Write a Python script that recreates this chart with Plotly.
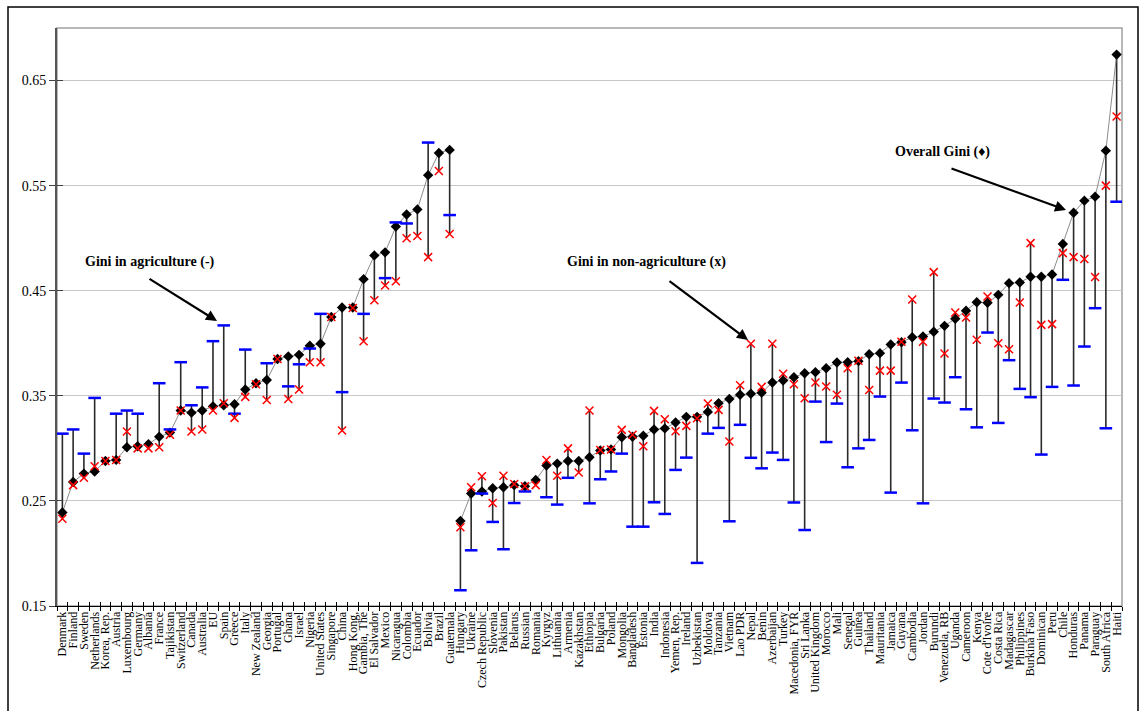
import plotly.graph_objects as go

countries = ["Denmark","Finland","Sweden","Netherlands","Korea, Rep.","Austria","Luxembourg","Germany","Albania","France",
"Tajikistan","Switzerland","Canada","Australia","EU","Spain","Greece","Italy","New Zealand","Georgia",
"Portugal","Ghana","Israel","Nigeria","United States","Singapore","China","Hong Kong,","Gambia, The","El Salvador",
"Mexico","Nicaragua","Colombia","Ecuador","Bolivia","Brazil","Guatemala","Hungary","Ukraine","Czech Republic",
"Slovenia","Pakistan","Belarus","Russian","Romania","Kyrgyz","Lithuania","Armenia","Kazakhstan","Ethiopia",
"Bulgaria","Poland","Mongolia","Bangladesh","Estonia","India","Indonesia","Yemen, Rep.","Ireland","Uzbekistan",
"Moldova","Tanzania","Vietnam","Lao PDR","Nepal","Benin","Azerbaijan","Turkey","Macedonia, FYR","Sri Lanka",
"United Kingdom","Morocco","Mali","Senegal","Guinea","Thailand","Mauritania","Jamaica","Guyana","Cambodia",
"Jordan","Burundi","Venezuela, RB","Uganda","Cameroon","Kenya","Cote d'Ivoire","Costa Rica","Madagascar","Philippines",
"Burkina Faso","Dominican","Peru","Chile","Honduras","Panama","Paraguay","South Africa","Haiti"]

# the overall-Gini line is drawn as two separate groups; the second group starts here
second_group_start = "Hungary"

gini_overall = [0.239,0.268,0.276,0.278,0.288,0.289,0.301,0.302,0.304,0.311,
0.315,0.336,0.334,0.336,0.340,0.341,0.342,0.356,0.362,0.365,
0.385,0.3875,0.389,0.3976,0.3995,0.425,0.434,0.434,0.461,0.4836,
0.4865,0.511,0.5226,0.5274,0.560,0.581,0.584,0.231,0.257,0.259,
0.262,0.263,0.265,0.264,0.270,0.2836,0.2855,0.288,0.288,0.2916,
0.298,0.299,0.3106,0.311,0.312,0.318,0.319,0.3246,0.330,0.330,
0.3347,0.343,0.347,0.351,0.352,0.353,0.3627,0.3646,0.3677,0.3715,
0.3725,0.3763,0.3817,0.382,0.383,0.3896,0.3906,0.3988,0.401,0.4058,
0.4064,0.4109,0.4166,0.4233,0.4309,0.4391,0.4385,0.4461,0.4572,0.4579,
0.4633,0.4633,0.4655,0.4944,0.5242,0.5357,0.5395,0.5833,0.6747]

gini_agri = [0.314,0.318,0.295,0.348,None,0.333,0.336,0.333,None,0.362,
0.318,0.382,0.341,0.358,0.402,0.417,0.333,0.394,None,0.381,
None,0.359,0.380,0.395,0.428,None,0.3535,None,0.428,None,
0.462,0.515,0.514,None,0.591,None,0.522,0.165,0.203,0.257,
0.230,0.204,0.248,0.259,None,0.2535,0.2465,0.272,None,0.2477,
0.2706,0.278,0.295,0.2255,0.2255,0.2487,0.2376,0.2795,0.2912,0.191,
0.314,0.3195,0.2306,0.3224,0.291,0.281,0.296,0.289,0.2485,0.2223,
0.3445,0.306,0.3426,0.282,0.300,0.308,0.3493,0.2579,0.3626,0.3172,
0.2477,0.3474,0.3436,0.3677,0.3372,0.320,0.4102,0.3242,0.3839,0.3566,
0.3487,0.2941,0.3585,0.4604,0.3598,0.3969,0.4334,0.3191,0.5347]

gini_nonagri = [0.233,0.265,0.272,0.283,0.288,0.289,0.316,0.300,0.300,0.301,
0.313,0.336,0.316,0.318,0.336,0.343,0.329,0.349,0.361,0.346,
0.385,0.347,0.356,0.382,0.382,0.425,0.317,0.4335,0.402,0.441,
0.455,0.459,0.500,0.502,0.482,0.564,0.504,0.225,0.263,0.2735,
0.248,0.274,0.266,0.264,0.265,0.289,0.274,0.300,0.277,0.336,
0.2985,0.299,0.3176,0.313,0.302,0.3357,0.3277,0.3163,0.3214,0.3287,
0.3427,0.3366,0.3065,0.360,0.3995,0.3585,0.3995,0.371,0.361,0.3477,
0.3626,0.3588,0.351,0.3763,0.3833,0.3556,0.374,0.374,0.4014,0.4417,
0.4014,0.4677,0.3902,0.4293,0.4245,0.4033,0.4445,0.4001,0.3944,0.4388,
0.4953,0.4175,0.4182,0.4858,0.482,0.4801,0.463,0.550,0.6157]

y_ticks = [0.15, 0.25, 0.35, 0.45, 0.55, 0.65]
y_tick_text = ["0.15", "0.25", "0.35", "0.45", "0.55", "0.65"]

FONT = "Liberation Serif"

# high-low lines
hx, hy = [], []
for c, g, a, n_ in zip(countries, gini_overall, gini_agri, gini_nonagri):
    vals = [v for v in (g, a, n_) if v is not None]
    hx += [c, c, None]
    hy += [min(vals), max(vals), None]

k = countries.index(second_group_start)

fig = go.Figure()
fig.add_trace(go.Scatter(x=hx, y=hy, mode="lines", line=dict(color="#2a2a2a", width=1.6),
                         hoverinfo="skip", showlegend=False))
for xs, ys in ((countries[:k], gini_overall[:k]), (countries[k:], gini_overall[k:])):
    fig.add_trace(go.Scatter(x=xs, y=ys, mode="lines+markers", name="Overall Gini",
                             line=dict(color="#8c8c8c", width=1),
                             marker=dict(symbol="diamond", size=8, color="black"), showlegend=False))
fig.add_trace(go.Scatter(x=countries, y=gini_agri, mode="markers", name="Gini in agriculture",
                         marker=dict(symbol="line-ew", size=9, line=dict(color="#0000ff", width=2.5)),
                         showlegend=False))
fig.add_trace(go.Scatter(x=countries, y=gini_nonagri, mode="markers", name="Gini in non-agriculture",
                         marker=dict(symbol="x-thin", size=8, line=dict(color="#ff0000", width=1.5)),
                         showlegend=False))
# invisible trace for overlay axes (crossing ticks)
fig.add_trace(go.Scatter(x=countries, y=gini_overall, xaxis="x2", yaxis="y2", mode="markers",
                         marker=dict(opacity=0), hoverinfo="skip", showlegend=False))

W, H = 1140, 711
L, R, T, B = 57, 18, 28, 105
pw, ph = W - L - R, H - T - B
ymin, ymax = 0.15, 0.70
n = len(countries)

def px2x(px):
    return (px - L) / pw * n - 0.5

def py2y(py):
    return ymax - (py - T) / ph * (ymax - ymin)

fig.update_layout(
    width=W, height=H,
    margin=dict(l=L, r=R, t=T, b=B, autoexpand=False),
    paper_bgcolor="white", plot_bgcolor="white",
    font=dict(family=FONT, color="black", size=12),
    xaxis=dict(type="category", categoryorder="array", categoryarray=countries,
               range=[-0.5, n - 0.5], tickmode="linear", tick0=0, dtick=1,
               tickson="boundaries", ticks="outside", ticklen=4,
               tickcolor="black", tickangle=-90, showgrid=False, showline=True, automargin=False,
               linecolor="black", linewidth=1, tickfont=dict(family=FONT, size=12, color="black"),
               zeroline=False),
    yaxis=dict(range=[ymin, ymax], tickvals=y_ticks, ticktext=y_tick_text, ticks="outside",
               ticklen=6, tickcolor="#404040", showgrid=True, gridcolor="#c8c8c8", gridwidth=1,
               showline=True, linecolor="#555555", linewidth=2, zeroline=False, automargin=False,
               tickfont=dict(family=FONT, size=14, color="black")),
    xaxis2=dict(type="category", categoryorder="array", categoryarray=countries, overlaying="x",
                range=[-0.5, n - 0.5], tickmode="linear", tick0=0, dtick=1,
                tickson="boundaries", ticks="inside", ticklen=4,
                tickcolor="black", showticklabels=False, showgrid=False, showline=False,
                zeroline=False, side="bottom", automargin=False),
    yaxis2=dict(range=[ymin, ymax], overlaying="y", tickvals=y_ticks, ticks="inside", ticklen=6,
                tickcolor="#404040", showticklabels=False, showgrid=False, showline=False,
                zeroline=False, side="left", automargin=False),
    shapes=[
        dict(type="rect", xref="paper", yref="paper", x0=0, y0=0, x1=1, y1=1,
             line=dict(color="#a0a0a0", width=1.5), layer="below"),
        dict(type="rect", xref="paper", yref="paper",
             x0=(8 - L) / pw, x1=(1138 - L) / pw, y0=-0.5, y1=(H - B - 7) / ph,
             line=dict(color="black", width=1.5)),
    ],
)

annots = [
    dict(text="<b>Gini in agriculture (-)</b>", px=83, py=262),
    dict(text="<b>Gini in non-agriculture (x)</b>", px=565, py=262),
    dict(text="<b>Overall Gini (\u2666)</b>", px=893, py=152),
]
for a in annots:
    fig.add_annotation(x=px2x(a["px"]), y=py2y(a["py"]), xref="x", yref="y", text=a["text"],
                       showarrow=False, xanchor="left", yanchor="middle",
                       font=dict(family=FONT, size=14, color="black"))

arrows = [((148, 278), (217, 321)), ((668, 280), (748, 340)), ((950, 168), (1066, 210))]
for (tx, ty), (hxp, hyp) in arrows:
    fig.add_annotation(x=px2x(hxp), y=py2y(hyp), xref="x", yref="y", text="",
                       showarrow=True, arrowhead=2, arrowsize=1, arrowwidth=2.2, arrowcolor="black",
                       ax=tx - hxp, ay=ty - hyp, axref="pixel", ayref="pixel")

fig.write_html("out.html", config={"displayModeBar": False},
               post_script="document.body.style.margin='0px';document.body.style.overflow='hidden';")
